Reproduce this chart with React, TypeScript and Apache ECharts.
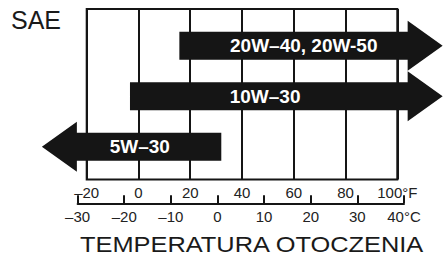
import React, { useEffect, useRef } from "react";
import * as echarts from "echarts";

// ---- data ----
const fahrenheitTicks = [-20, 0, 20, 40, 60, 80, 100];
const celsiusTicks = [-30, -20, -10, 0, 10, 20, 30, 40];
const grades = ["20W–40, 20W-50", "10W–30", "5W–30"];
const rowIndex = [0, 1, 2];
// flat end of each arrow (°C)
const fromC = [-9, -19.6, 0];
// base of each arrow head (°C)
const headC = [40, 40, -31];
// temperature under the centre of each label (°C)
const labelC = [17.7, 9.4, -17.5];

const toF = (c: number) => c * 1.8 + 32;
const FONT = "'Liberation Sans', Arial, sans-serif";
const INK = "#151515";

const fmt = (v: number, unit?: string) => {
  const s = v < 0 ? "–" + Math.abs(v) : String(v);
  return unit ? s + unit : s;
};

export default function App() {
  const ref = useRef<HTMLDivElement>(null);
  useEffect(() => {
    if (!ref.current) return;
    const chart = echarts.init(ref.current, null, { renderer: "svg" });
    const data = grades.map((g, i) => [
      toF(fromC[i]),
      toF(headC[i]),
      rowIndex[i],
      toF(labelC[i]),
      g,
    ]);
    const bodyHalf = 14;
    const headHalf = 25;
    const headLen = 35;
    chart.setOption({
      animation: false,
      backgroundColor: "#fff",
      grid: [
        {
          left: 86.7,
          top: 9,
          width: 310.6,
          height: 170.5,
          show: true,
          borderColor: INK,
          borderWidth: 2,
          backgroundColor: "transparent",
        },
        { left: 77.6, top: 202.3, width: 326.4, height: 1 },
      ],
      xAxis: [
        {
          gridIndex: 0,
          type: "value",
          min: fahrenheitTicks[0],
          max: fahrenheitTicks[fahrenheitTicks.length - 1],
          interval: 20,
          position: "bottom",
          offset: 24,
          axisLine: { show: false },
          axisTick: { show: false },
          axisLabel: {
            inside: true,
            margin: 4,
            fontSize: 15,
            fontFamily: FONT,
            color: "#222",
            showMinLabel: true,
            showMaxLabel: true,
            formatter: (v: number) => fmt(v, v === 100 ? "°F" : undefined),
          },
          splitLine: { show: true, lineStyle: { color: INK, width: 2 } },
        },
        {
          gridIndex: 1,
          type: "value",
          min: celsiusTicks[0],
          max: celsiusTicks[celsiusTicks.length - 1],
          interval: 10,
          position: "bottom",
          axisLine: { show: true, lineStyle: { color: INK, width: 2 } },
          axisTick: {
            show: true,
            inside: true,
            length: 8,
            lineStyle: { color: INK, width: 2 },
          },
          axisLabel: {
            margin: 6,
            fontSize: 15,
            fontFamily: FONT,
            color: "#222",
            showMinLabel: true,
            showMaxLabel: true,
            formatter: (v: number) => fmt(v, v === 40 ? "°C" : undefined),
          },
          splitLine: { show: false },
        },
      ],
      yAxis: [
        { gridIndex: 0, type: "value", inverse: true, min: -0.73, max: 2.65, show: false },
        { gridIndex: 1, type: "value", show: false },
      ],
      graphic: [
        {
          type: "text",
          x: 11,
          y: 19.5,
          style: {
            text: "SAE",
            font: `25px ${FONT}`,
            fill: "#1a1a1a",
            textAlign: "left",
            textVerticalAlign: "middle",
          },
        },
        {
          type: "text",
          x: 80,
          y: 244,
          scaleX: 1.155,
          style: {
            text: "TEMPERATURA OTOCZENIA",
            font: `22px ${FONT}`,
            fill: "#1a1a1a",
            textAlign: "left",
            textVerticalAlign: "middle",
          },
        },
      ],
      series: [
        {
          type: "custom",
          xAxisIndex: 0,
          yAxisIndex: 0,
          clip: false,
          encode: { x: [0, 1, 3], y: 2 },
          data,
          renderItem: (params: any, api: any) => {
            const a = api.coord([api.value(0), api.value(2)]);
            const b = api.coord([api.value(1), api.value(2)]);
            const l = api.coord([api.value(3), api.value(2)]);
            const x0 = a[0];
            const x1 = b[0];
            const y = a[1];
            const d = x1 >= x0 ? 1 : -1;
            const tip = x1 + d * headLen;
            const pts = [
              [x0, y - bodyHalf],
              [x1, y - bodyHalf],
              [x1, y - headHalf],
              [tip, y],
              [x1, y + headHalf],
              [x1, y + bodyHalf],
              [x0, y + bodyHalf],
            ];
            return {
              type: "group",
              children: [
                { type: "polygon", shape: { points: pts }, style: { fill: INK } },
                {
                  type: "text",
                  x: l[0],
                  y: y,
                  style: {
                    text: api.value(4),
                    font: `bold 19px ${FONT}`,
                    fill: "#fff",
                    textAlign: "center",
                    textVerticalAlign: "middle",
                  },
                },
              ],
            };
          },
        },
      ],
    });
    return () => chart.dispose();
  }, []);
  return (
    <div
      ref={ref}
      style={{ position: "fixed", left: 0, top: 0, width: 443, height: 255 }}
    />
  );
}
